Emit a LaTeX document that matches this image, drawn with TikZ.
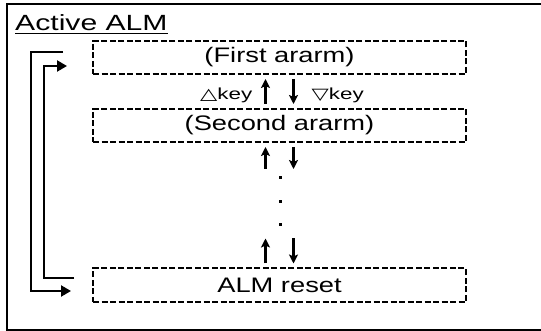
\documentclass[tikz,border=0pt]{standalone}
\usepackage{fontspec}
\setmainfont{Liberation Sans}
\newfontfamily\trifont{DejaVu Sans}
\usetikzlibrary{arrows.meta, positioning}
\newcommand{\wtxt}[1]{\scalebox{1.3}[1]{#1}}
\tikzset{
  almbox/.style={rectangle, draw=black, line width=2pt,
    dash pattern=on 6pt off 2.5pt, inner sep=0pt,
    minimum width=373pt, minimum height=33pt,
    font=\fontsize{21}{24}\selectfont},
  titletext/.style={inner sep=0pt, font=\fontsize{22}{26}\selectfont},
  keyarrow/.style={-{Stealth[length=9pt, width=9pt, inset=2pt]},
    line width=2.4pt, shorten <=4pt, shorten >=4pt},
  looparrow/.style={-{Triangle[length=10pt, width=11pt]}, line width=2.2pt},
  keylabel/.style={font=\fontsize{16}{18}\selectfont, inner sep=0pt, yshift=-4pt},
  dotmark/.style={rectangle, fill=black, inner sep=0pt, minimum size=3pt}
}
\begin{document}
\begin{tikzpicture}[x=1pt, y=-1pt]
  \useasboundingbox (0,0) rectangle (541,331);
  \draw[line width=2.4pt] (7,4) rectangle (548,330);

  % Title
  \node[titletext, anchor=base west] (title) at (15,31) {\scalebox{1.37}[1]{Active ALM}};
  \draw[line width=1.6pt] ([yshift=-2.5pt]title.base west) -- ([yshift=-2.5pt]title.base east);

  % Alarm boxes
  \node[almbox] (fst) at (279.5,57.5) {\wtxt{(First ararm)}};
  \node[almbox, below=33pt of fst] (sec) {\wtxt{(Second ararm)}};
  \node[almbox, below=124.5pt of sec] (alm) {\wtxt{ALM reset}};

  \coordinate[below=30pt of sec] (gaptop);
  \coordinate[above=33pt of alm] (gapbot);

  % Key arrows
  \draw[keyarrow] ([xshift=-14pt]sec.north) -- ([xshift=-14pt]fst.south)
    node[midway, left=12pt, keylabel] {\scalebox{1.4}[1]{{\trifont △}key}};
  \draw[keyarrow] ([xshift=14pt]fst.south) -- ([xshift=14pt]sec.north)
    node[midway, right=17pt, keylabel] {\scalebox{1.4}[1]{{\trifont ▽}key}};
  \draw[keyarrow] ([xshift=-14pt]gaptop) -- ([xshift=-14pt]sec.south);
  \draw[keyarrow] ([xshift=14pt]sec.south) -- ([xshift=14pt]gaptop);
  \draw[keyarrow] ([xshift=-14pt]alm.north) -- ([xshift=-14pt]gapbot);
  \draw[keyarrow] ([xshift=14pt]gapbot) -- ([xshift=14pt]alm.north);

  % Dots
  \foreach \y [count=\i] in {178,202,225}
    \node[dotmark] (dot\i) at (280,\y) {};

  % Loop lines
  \draw[looparrow] ([xshift=-29pt, yshift=5.5pt]fst.west) -- ++(-32,0)
    |- ([xshift=-21pt, yshift=-6pt]alm.west);
  \draw[looparrow] ([xshift=-18pt, yshift=7pt]alm.west) -- ++(-30,0)
    |- ([xshift=-25pt, yshift=-8.5pt]fst.west);
\end{tikzpicture}
\end{document}
